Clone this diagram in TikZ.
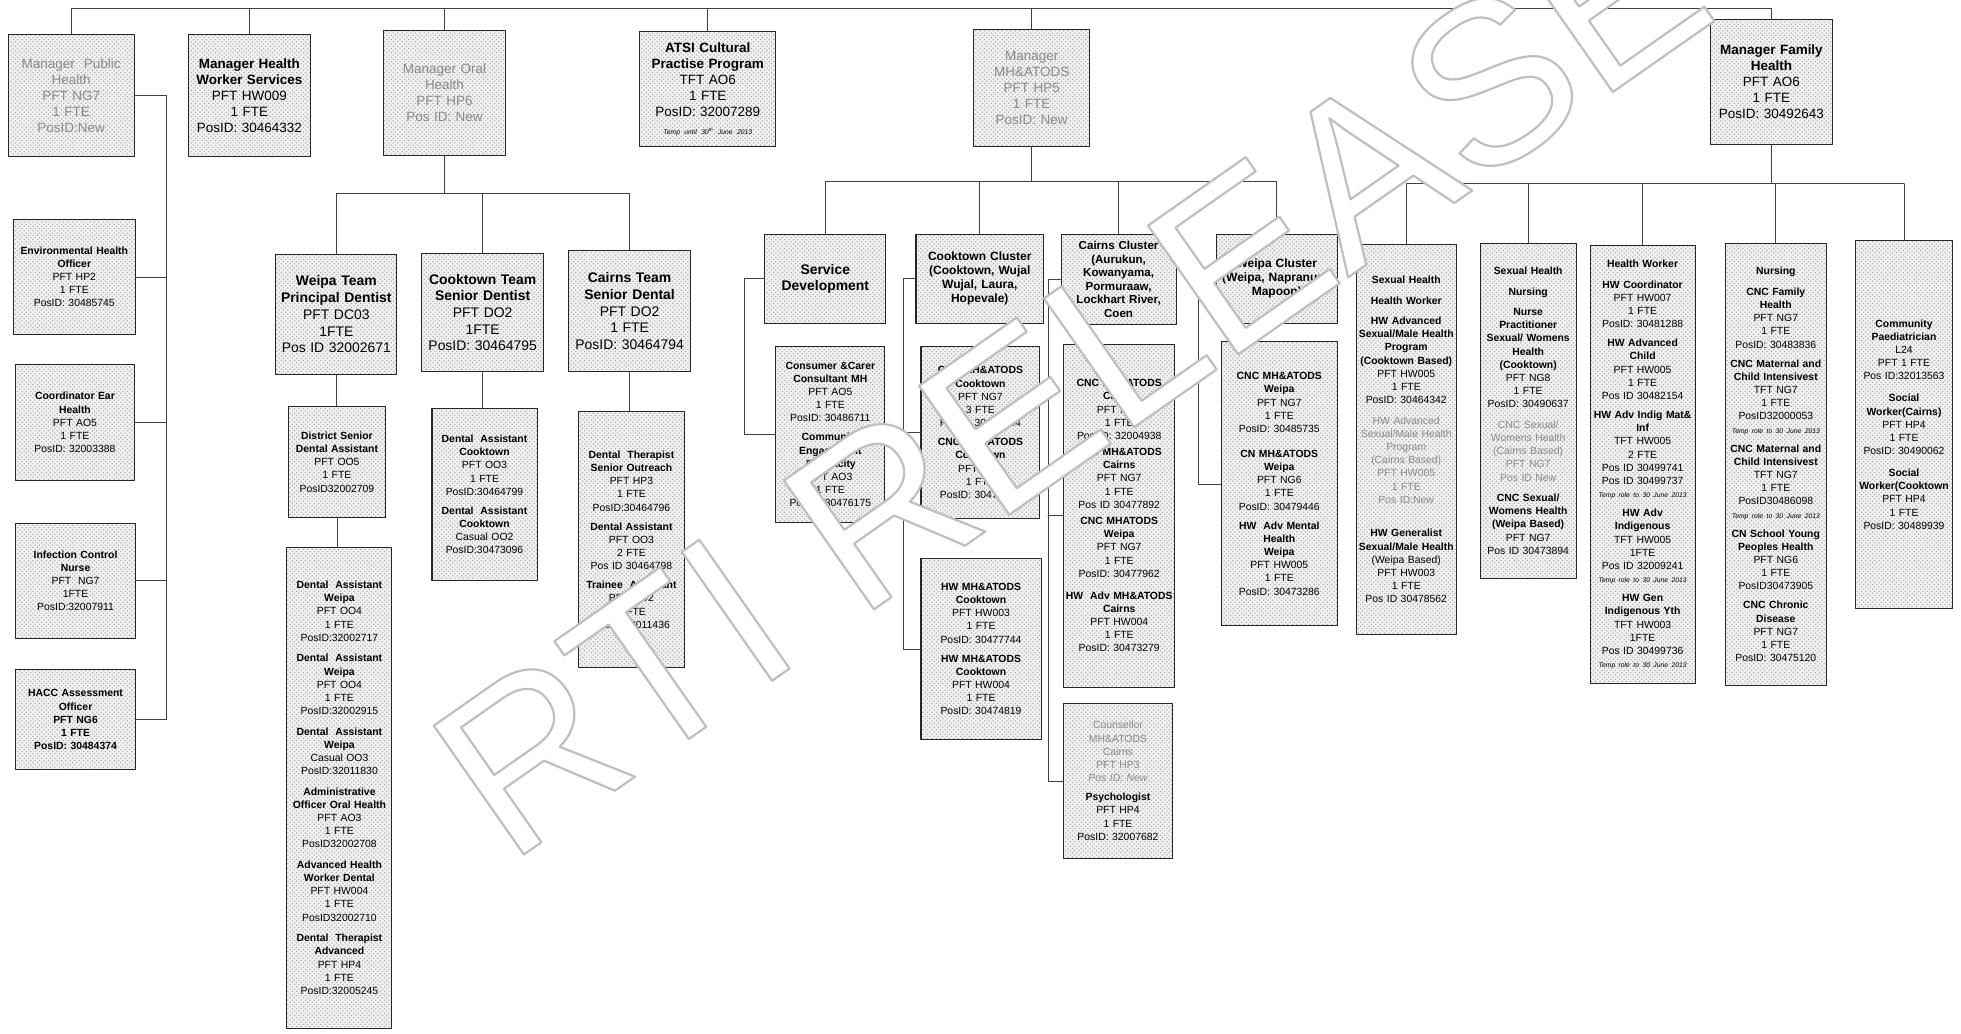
\documentclass[tikz,border=0pt]{standalone}
\usepackage{fontspec}
\setmainfont{Liberation Sans}
\usetikzlibrary{patterns}
\definecolor{stip}{HTML}{F1F1F1}
\definecolor{dot}{HTML}{A4A4A4}
\definecolor{fade}{HTML}{8A8A8A}
\def\pxu{0.3mm}
\newcommand{\temprole}[1]{{\fontsize{4.6}{6}\selectfont\itshape #1}}

\tikzset{
  post/.style={draw=black!85, line width=0.7pt, anchor=north west, inner sep=0pt, align=center,
    preaction={fill=stip}, pattern=crosshatch dots, pattern color=dot},
  wh/.style 2 args={minimum width=#1*\pxu, minimum height=#2*\pxu, text width=#1*\pxu},
  boss/.style={post, font=\fontsize{9.2}{10.9}\selectfont},
  head/.style={post, font=\fontsize{9.5}{11.4}\selectfont},
  clus/.style={post, font=\fontsize{8.2}{9.6}\selectfont},
  leaf/.style={post, font=\fontsize{7.1}{9}\selectfont},
  link/.style={draw=black!75, line width=0.5pt},
}

\begin{document}
\begin{tikzpicture}[x=0.3mm, y=-0.3mm, line cap=round, line join=round]
  \fill[white] (0,0) rectangle (1568,826);
  \useasboundingbox (0,0) rectangle (1568,826);

  % managers under the director
  \node[boss, wh={101}{98}, text=fade] (pubh) at (6,27) {Manager~ Public\\Health\\PFT NG7\\1 FTE\\PosID:New};
  \node[boss, wh={98}{98}] (hws) at (150,27) {{\bfseries Manager Health\\Worker Services}\\PFT HW009\\1 FTE\\PosID: 30464332};
  \node[boss, wh={98}{100}, text=fade] (oral) at (306,24) {Manager Oral\\Health\\PFT HP6\\Pos ID: New};
  \node[boss, wh={109}{92}] (atsi) at (511,25) {{\bfseries ATSI Cultural\\Practise Program}\\TFT AO6\\1 FTE\\PosID: 32007289\\[1pt]\temprole{Temp until 30\textsuperscript{th} June 2013}};
  \node[boss, wh={93}{94}, text=fade] (mh) at (778,23) {Manager\\MH\&ATODS\\PFT HP5\\1 FTE\\PosID: New};
  \node[boss, wh={98}{100}] (fam) at (1367,15) {{\bfseries Manager Family\\Health}\\PFT AO6\\1 FTE\\PosID: 30492643};

  % public health
  \node[leaf, wh={98}{92}] (env) at (10,175) {{\bfseries Environmental Health\\Officer}\\PFT HP2\\1 FTE\\PosID: 30485745};
  \node[leaf, wh={95}{93}] (ear) at (12,291) {{\bfseries Coordinator Ear\\Health}\\PFT AO5\\1 FTE\\PosID: 32003388};
  \node[leaf, wh={96}{92}] (inf) at (12,418) {{\bfseries Infection Control\\Nurse}\\PFT\ \ NG7\\1FTE\\PosID:32007911};
  \node[leaf, wh={96}{80}] (hacc) at (12,535) {{\bfseries HACC Assessment\\Officer\\PFT NG6\\1 FTE\\PosID: 30484374}};

  % oral health
  \node[head, wh={97}{96}] (wtd) at (220,203) {{\bfseries Weipa Team\\Principal Dentist}\\PFT DC03\\1FTE\\Pos ID 32002671};
  \node[head, wh={97}{95}] (ctd) at (337,202) {{\bfseries Cooktown Team\\Senior Dentist}\\PFT DO2\\1FTE\\PosID: 30464795};
  \node[head, wh={98}{97}] (catd) at (454,200) {{\bfseries Cairns Team\\Senior Dental}\\PFT DO2\\1 FTE\\PosID: 30464794};
  \node[leaf, wh={78}{88}] (dsda) at (230,325) {{\bfseries District Senior\\Dental Assistant}\\PFT OO5\\1 FTE\\PosID32002709};
  \node[leaf, wh={84}{385}] (wda) at (229,437) {{\bfseries Dental\ \ Assistant\\Weipa}\\PFT OO4\\1 FTE\\PosID:32002717\\[5pt]
    {\bfseries Dental\ \ Assistant\\Weipa}\\PFT OO4\\1 FTE\\PosID:32002915\\[5pt]
    {\bfseries Dental\ \ Assistant\\Weipa}\\Casual OO3\\PosID:32011830\\[5pt]
    {\bfseries Administrative\\Officer Oral Health}\\PFT AO3\\1 FTE\\PosID32002708\\[5pt]
    {\bfseries Advanced Health\\Worker Dental}\\PFT HW004\\1 FTE\\PosID32002710\\[5pt]
    {\bfseries Dental\ \ Therapist\\Advanced}\\PFT HP4\\1 FTE\\PosID:32005245};
  \node[leaf, wh={84}{138}] (cda) at (345,326) {{\bfseries Dental\ \ Assistant\\Cooktown}\\PFT OO3\\1 FTE\\PosID:30464799\\[4pt]
    {\bfseries Dental\ \ Assistant\\Cooktown}\\Casual OO2\\PosID:30473096};
  \node[leaf, wh={85}{204}] (cada) at (462,329) {{\bfseries Dental\ \ Therapist\\Senior Outreach}\\PFT HP3\\1 FTE\\PosID:30464796\\[4pt]
    {\bfseries Dental Assistant}\\PFT OO3\\2 FTE\\Pos ID 30464798\\[4pt]
    {\bfseries Trainee\ \ Assistant}\\PFT OO2\\1 FTE\\PosID:32011436};

  % mental health and ATODS
  \node[head, wh={97}{71}] (sd) at (611,187) {{\bfseries Service\\Development}};
  \node[clus, wh={102}{71}] (cc) at (732,187) {{\bfseries Cooktown Cluster\\(Cooktown, Wujal\\Wujal, Laura,\\Hopevale)}};
  \node[clus, wh={92}{72}, font=\fontsize{7.9}{9.3}\selectfont] (cac) at (848,187) {{\bfseries Cairns Cluster\\(Aurukun,\\Kowanyama,\\Pormuraaw,\\Lockhart River,\\Coen}};
  \node[clus, wh={97}{71}] (wc) at (972,187) {{\bfseries Weipa Cluster\\(Weipa, Napranum,\\Mapoon)}};
  \node[leaf, wh={87}{140}] (cons) at (620,277) {{\bfseries Consumer \&Carer\\Consultant MH}\\PFT AO5\\1 FTE\\PosID: 30486711\\[4pt]
    {\bfseries Community\\Engagement\\\&Capacity}\\PFT AO3\\1 FTE\\Pos ID 30476175};
  \node[leaf, wh={95}{137}] (ccl1) at (736,277) {{\bfseries CNC MH\&ATODS\\Cooktown}\\PFT NG7\\3 FTE\\PosID: 30473304\\[4pt]
    {\bfseries CNC MH\&ATODS\\Cooktown}\\PFT NG7\\1 FTE\\PosID: 30478682};
  \node[leaf, wh={96}{145}] (ccl2) at (736,446) {{\bfseries HW MH\&ATODS\\Cooktown}\\PFT HW003\\1 FTE\\PosID: 30477744\\[4pt]
    {\bfseries HW MH\&ATODS\\Cooktown}\\PFT HW004\\1 FTE\\PosID: 30474819};
  \node[leaf, wh={89}{274}] (cal1) at (850,275) {{\bfseries CNC MH\&ATODS\\Cairns}\\PFT NG7\\1 FTE\\Pos ID: 32004938\\[2pt]
    {\bfseries CNC MH\&ATODS\\Cairns}\\PFT NG7\\1 FTE\\Pos ID 30477892\\[2pt]
    {\bfseries CNC MHATODS\\Weipa}\\PFT NG7\\1 FTE\\PosID: 30477962\\[6pt]
    {\bfseries HW\ \ Adv MH\&ATODS\\Cairns}\\PFT HW004\\1 FTE\\PosID: 30473279};
  \node[leaf, wh={87}{124}] (cal2) at (850,562) {{\color{fade}Counsellor\\MH\&ATODS\\Cairns\\PFT HP3\\\itshape Pos ID: New}\\[4pt]
    {\bfseries Psychologist}\\PFT HP4\\1 FTE\\PosID: 32007682};
  \node[leaf, wh={93}{227}] (wcl) at (976,273) {{\bfseries CNC MH\&ATODS\\Weipa}\\PFT NG7\\1 FTE\\PosID: 30485735\\[8pt]
    {\bfseries CN MH\&ATODS\\Weipa}\\PFT NG6\\1 FTE\\PosID: 30479446\\[4pt]
    {\bfseries HW\ \ Adv Mental\\Health\\Weipa}\\PFT HW005\\1 FTE\\PosID: 30473286};

  % family health
  \node[leaf, wh={80}{312}] (shw) at (1084,195) {{\bfseries Sexual Health}\\[5pt]{\bfseries Health Worker}\\[5pt]
    {\bfseries HW Advanced\\Sexual/Male Health\\Program\\(Cooktown Based)}\\PFT HW005\\1 FTE\\PosID: 30464342\\[5pt]
    {\color{fade}HW Advanced\\Sexual/Male Health\\Program\\(Cairns Based)\\PFT HW005\\1 FTE\\Pos ID:New}\\[14pt]
    {\bfseries HW Generalist\\Sexual/Male Health}\\(Weipa Based)\\PFT HW003\\1 FTE\\Pos ID 30478562};
  \node[leaf, wh={77}{268}] (shn) at (1183,194) {{\bfseries Sexual Health}\\[5pt]{\bfseries Nursing}\\[5pt]
    {\bfseries Nurse\\Practitioner\\Sexual/ Womens\\Health\\(Cooktown)}\\PFT NG8\\1 FTE\\PosID: 30490637\\[5pt]
    {\color{fade}CNC Sexual/\\Womens Health\\(Cairns Based)\\PFT NG7\\Pos ID New}\\[5pt]
    {\bfseries CNC Sexual/\\Womens Health\\(Weipa Based)}\\PFT NG7\\Pos ID 30473894};
  \node[leaf, wh={84}{350}] (fhw) at (1271,196) {{\bfseries Health Worker}\\[5pt]
    {\bfseries HW Coordinator}\\PFT HW007\\1 FTE\\PosID: 30481288\\[4pt]
    {\bfseries HW Advanced\\Child}\\PFT HW005\\1 FTE\\Pos ID 30482154\\[4pt]
    {\bfseries HW Adv Indig Mat\&\\Inf}\\TFT HW005\\2 FTE\\Pos ID 30499741\\Pos ID 30499737\\\temprole{Temp role to 30 June 2013}\\[4pt]
    {\bfseries HW Adv\\Indigenous}\\TFT HW005\\1FTE\\Pos ID 32009241\\\temprole{Temp role to 30 June 2013}\\[4pt]
    {\bfseries HW Gen\\Indigenous Yth}\\TFT HW003\\1FTE\\Pos ID 30499736\\\temprole{Temp role to 30 June 2013}};
  \node[leaf, wh={81}{354}] (fn) at (1379,194) {{\bfseries Nursing}\\[5pt]
    {\bfseries CNC Family\\Health}\\PFT NG7\\1 FTE\\PosID: 30483836\\[4pt]
    {\bfseries CNC Maternal and\\Child Intensivest}\\TFT NG7\\1 FTE\\PosID32000053\\\temprole{Temp role to 30 June 2013}\\[4pt]
    {\bfseries CNC Maternal and\\Child Intensivest}\\TFT NG7\\1 FTE\\PosID30486098\\\temprole{Temp role to 30 June 2013}\\[4pt]
    {\bfseries CN School Young\\Peoples Health}\\PFT NG6\\1 FTE\\PosID30473905\\[4pt]
    {\bfseries CNC Chronic\\Disease}\\PFT NG7\\1 FTE\\PosID: 30475120};
  \node[leaf, wh={78}{294}] (fp) at (1483,192) {{\bfseries Community\\Paediatrician}\\L24\\PFT 1 FTE\\Pos ID:32013563\\[6pt]
    {\bfseries Social\\Worker(Cairns)}\\PFT HP4\\1 FTE\\PosID: 30490062\\[6pt]
    {\bfseries Social\\Worker(Cooktown}\\PFT HP4\\1 FTE\\PosID: 30489939};

  % connectors
  \coordinate (bus0) at (0,7);
  \draw[link] (pubh.north) |- (bus0 -| fam.north) -- (fam.north);
  \foreach \n in {hws,oral,atsi,mh}
    \draw[link] (\n.north) -- (\n.north |- bus0);

  \coordinate (phx) at (133,0);
  \draw[link] (pubh.east) -| (phx |- hacc.east) -- (hacc.east);
  \foreach \n in {env,ear,inf}
    \draw[link] (\n.east) -- (\n.east -| phx);

  \coordinate (bus1) at (0,155);
  \draw[link] (oral.south) -- (oral.south |- bus1);
  \draw[link] (wtd.north |- bus1) -- (catd.north |- bus1);
  \foreach \n in {wtd,ctd,catd}
    \draw[link] (\n.north) -- (\n.north |- bus1);
  \draw[link] (wtd.south) -- (wtd.south |- dsda.north);
  \draw[link] (dsda.south) -- (dsda.south |- wda.north);
  \draw[link] (ctd.south) -- (ctd.south |- cda.north);
  \draw[link] (catd.south) -- (catd.south |- cada.north);

  \coordinate (bus2) at (0,145);
  \draw[link] (mh.south) -- (mh.south |- bus2);
  \draw[link] (sd.north |- bus2) -- (wc.north |- bus2);
  \foreach \n in {sd,cc,cac,wc}
    \draw[link] (\n.north) -- (\n.north |- bus2);
  \draw[link] (sd.west) -- ++(-16,0) |- (cons.west);
  \draw[link] (cc.west) -- ++(-10,0) coordinate (ccx) |- (ccl2.west);
  \draw[link] (ccl1.west) -- (ccl1.west -| ccx);
  \draw[link] (cac.west) -- ++(-10,0) coordinate (cax) |- (cal2.west);
  \draw[link] (cal1.west) -- (cal1.west -| cax);
  \draw[link] (wc.west) -- ++(-14,0) |- (wcl.west);

  \coordinate (bus3) at (0,147);
  \draw[link] (fam.south) -- (fam.south |- bus3);
  \draw[link] (shw.north |- bus3) -- (fp.north |- bus3);
  \foreach \n in {shw,shn,fhw,fn,fp}
    \draw[link] (\n.north) -- (\n.north |- bus3);

  % release stamp
  \node[font=\fontsize{156}{162}\selectfont, rotate=35, anchor=base, text=white, inner sep=0pt] (stamp) at (892,352)
    {\special{pdf:literal direct 2 Tr 1.5 w 0.75 G}RTI RELEASE\special{pdf:literal direct 0 Tr}};
\end{tikzpicture}
\end{document}
